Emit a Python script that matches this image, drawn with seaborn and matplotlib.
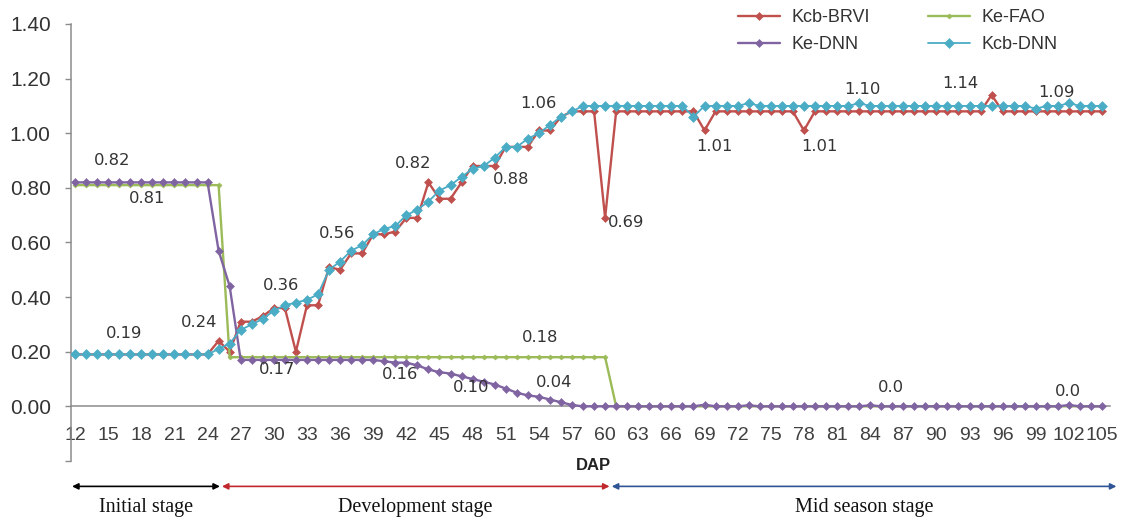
import matplotlib
matplotlib.use("Agg")
import matplotlib.pyplot as plt
from matplotlib import font_manager
import seaborn as sns

# Days after planting (daily observations) and the labelled x ticks
days = list(range(12, 106))
xtick_days = list(range(12, 106, 3))

# Basal crop coefficient from the BRVI model
kcb_brvi = [
    0.19, 0.19, 0.19, 0.19, 0.19, 0.19, 0.19, 0.19, 0.19, 0.19, 0.19, 0.19, 0.19,  # 12-24
    0.24, 0.20, 0.31, 0.31, 0.33, 0.36, 0.36, 0.20, 0.37, 0.37,                    # 25-34
    0.51, 0.50, 0.56, 0.56, 0.63, 0.63, 0.64, 0.69, 0.69, 0.82,                    # 35-44
    0.76, 0.76, 0.82, 0.88, 0.88, 0.88, 0.95, 0.95, 0.95, 1.01,                    # 45-54
    1.01, 1.06, 1.08, 1.08, 1.08, 0.69,                                            # 55-60
    1.08, 1.08, 1.08, 1.08, 1.08, 1.08, 1.08, 1.08, 1.01,                          # 61-69
    1.08, 1.08, 1.08, 1.08, 1.08, 1.08, 1.08, 1.08, 1.01,                          # 70-78
    1.08, 1.08, 1.08, 1.08, 1.08, 1.08, 1.08, 1.08,                                # 79-86
    1.08, 1.08, 1.08, 1.08, 1.08, 1.08, 1.08, 1.08, 1.14,                          # 87-95
    1.08, 1.08, 1.08, 1.08, 1.08, 1.08, 1.08, 1.08, 1.08, 1.08,                    # 96-105
]

# Evaporation coefficient following FAO-56
ke_fao = [
    0.81, 0.81, 0.81, 0.81, 0.81, 0.81, 0.81, 0.81, 0.81, 0.81, 0.81, 0.81, 0.81, 0.81,  # 12-25
    0.18, 0.18, 0.18, 0.18, 0.18, 0.18, 0.18, 0.18, 0.18, 0.18,                          # 26-35
    0.18, 0.18, 0.18, 0.18, 0.18, 0.18, 0.18, 0.18, 0.18, 0.18,                          # 36-45
    0.18, 0.18, 0.18, 0.18, 0.18, 0.18, 0.18, 0.18, 0.18, 0.18,                          # 46-55
    0.18, 0.18, 0.18, 0.18, 0.18,                                                        # 56-60
    0.0, 0.0, 0.0, 0.0, 0.0, 0.0, 0.0, 0.0, 0.0, 0.0, 0.0, 0.0, 0.0, 0.0, 0.0,           # 61-75
    0.0, 0.0, 0.0, 0.0, 0.0, 0.0, 0.0, 0.0, 0.0, 0.0, 0.0, 0.0, 0.0, 0.0, 0.0,           # 76-90
    0.0, 0.0, 0.0, 0.0, 0.0, 0.0, 0.0, 0.0, 0.0, 0.0, 0.0, 0.0, 0.0, 0.0, 0.0,           # 91-105
]

# Evaporation coefficient estimated by the DNN
ke_dnn = [
    0.82, 0.82, 0.82, 0.82, 0.82, 0.82, 0.82, 0.82, 0.82, 0.82, 0.82, 0.82, 0.82,  # 12-24
    0.57, 0.44,                                                                    # 25-26
    0.17, 0.17, 0.17, 0.17, 0.17, 0.17, 0.17, 0.17, 0.17, 0.17, 0.17, 0.17, 0.17,  # 27-39
    0.165, 0.16, 0.16, 0.15, 0.135, 0.125, 0.12, 0.11, 0.10,                       # 40-48
    0.09, 0.08, 0.065, 0.05, 0.04, 0.035, 0.025, 0.015, 0.005,                     # 49-57
    0.0, 0.0, 0.0, 0.0, 0.0, 0.0, 0.0, 0.0, 0.0, 0.0, 0.0, 0.006,                  # 58-69
    0.0, 0.0, 0.0, 0.004, 0.0, 0.0, 0.0, 0.0, 0.0, 0.0, 0.0, 0.0,                  # 70-81
    0.0, 0.0, 0.004, 0.0, 0.0, 0.0, 0.0, 0.0, 0.0, 0.0, 0.0, 0.0,                  # 82-93
    0.0, 0.0, 0.0, 0.0, 0.0, 0.0, 0.0, 0.0, 0.005, 0.0, 0.0, 0.0,                  # 94-105
]

# Basal crop coefficient estimated by the DNN
kcb_dnn = [
    0.19, 0.19, 0.19, 0.19, 0.19, 0.19, 0.19, 0.19, 0.19, 0.19, 0.19, 0.19, 0.19,  # 12-24
    0.21, 0.23, 0.28, 0.30, 0.32, 0.35, 0.37, 0.38, 0.39, 0.41,                    # 25-34
    0.50, 0.53, 0.57, 0.59, 0.63, 0.65, 0.66, 0.70, 0.72, 0.75,                    # 35-44
    0.79, 0.81, 0.84, 0.87, 0.88, 0.91, 0.95, 0.95, 0.98, 1.00,                    # 45-54
    1.03, 1.06, 1.08,                                                              # 55-57
    1.10, 1.10, 1.10, 1.10, 1.10, 1.10, 1.10, 1.10, 1.10, 1.10,                    # 58-67
    1.06, 1.10, 1.10, 1.10, 1.10, 1.11,                                            # 68-73
    1.10, 1.10, 1.10, 1.10, 1.10, 1.10, 1.10, 1.10, 1.10, 1.11,                    # 74-83
    1.10, 1.10, 1.10, 1.10, 1.10, 1.10, 1.10, 1.10, 1.10, 1.10,                    # 84-93
    1.10, 1.10, 1.10, 1.10, 1.10, 1.09, 1.10, 1.10, 1.11, 1.10, 1.10, 1.10,        # 94-105
]

series_names = ["Kcb-BRVI", "Ke-FAO", "Ke-DNN", "Kcb-DNN"]
series_values = [kcb_brvi, ke_fao, ke_dnn, kcb_dnn]
series_colors = ["#C0504D", "#9BBB59", "#8064A2", "#4BACC6"]

# Value call-outs written next to the curves: (text, day, height)
value_labels = [
    ("0.82", 15.4, 0.90), ("0.81", 18.5, 0.76), ("0.19", 16.4, 0.265),
    ("0.24", 23.25, 0.307), ("0.17", 30.25, 0.136), ("0.36", 30.7, 0.443),
    ("0.56", 35.7, 0.634), ("0.82", 42.6, 0.89), ("0.16", 41.4, 0.117),
    ("0.10", 47.9, 0.068), ("0.04", 55.35, 0.089), ("0.18", 54.1, 0.252),
    ("0.88", 51.5, 0.829), ("1.06", 54.0, 1.11), ("0.69", 61.9, 0.673),
    ("1.01", 69.9, 0.951), ("1.01", 79.4, 0.951), ("1.10", 83.3, 1.161),
    ("1.14", 92.2, 1.183), ("1.09", 100.9, 1.149), ("0.0", 85.9, 0.068),
    ("0.0", 101.9, 0.056),
]

# Growth stages along the DAP axis: (name, start day, end day, colour)
stages = [
    ("Initial stage", 11.73, 25.12, "#000000"),
    ("Development stage", 25.3, 60.4, "#C0282D"),
    ("Mid season stage", 60.6, 106.3, "#2F5597"),
]

sns.set_style("white")
installed = {f.name for f in font_manager.fontManager.ttflist}
narrow = "Liberation Sans Narrow" if "Liberation Sans Narrow" in installed else "Liberation Sans"
plt.rcParams["font.family"] = ["Liberation Sans", "DejaVu Sans"]

fig = plt.figure(figsize=(11.21, 5.21), dpi=100)
ax = fig.add_axes([0.0629, 0.1152, 0.9271, 0.8388])

styles = {
    "Kcb-BRVI": dict(markersize=4.5, linewidth=1.7, zorder=3.0),
    "Ke-FAO": dict(markersize=2.6, linewidth=1.7, zorder=3.1),
    "Ke-DNN": dict(markersize=3.6, linewidth=1.7, zorder=3.2),
    "Kcb-DNN": dict(markersize=4.8, linewidth=1.3, zorder=3.3),
}
for name, vals, col in zip(series_names, series_values, series_colors):
    sns.lineplot(x=days, y=vals, ax=ax, color=col, marker="D",
                 markeredgecolor=col, markeredgewidth=0.4, label=name,
                 **styles[name])

ax.set_xlim(11.59, 105.7)
ax.set_ylim(-0.2, 1.4)

# Axes frame: y axis on the left, x axis drawn through zero
for side in ("top", "right"):
    ax.spines[side].set_visible(False)
ax.spines["left"].set_color("#8C8C8C")
ax.spines["left"].set_linewidth(1.1)
ax.spines["bottom"].set_position(("data", 0))
ax.spines["bottom"].set_color("#8C8C8C")
ax.spines["bottom"].set_linewidth(1.1)

yticks = [-0.2, 0.0, 0.2, 0.4, 0.6, 0.8, 1.0, 1.2, 1.4]
ax.set_yticks(yticks)
ax.set_yticklabels([""] + [f"{t:.2f}" for t in yticks[1:]])
ax.tick_params(axis="y", left=True, direction="out", length=4.3, width=1,
               color="#8C8C8C", pad=10, labelsize=15, labelcolor="#333333")

ax.set_xticks(xtick_days)
ax.set_xticklabels([str(d) for d in xtick_days], fontfamily=narrow,
                   fontsize=14, color="#404040")
ax.tick_params(axis="x", bottom=False, length=0, pad=15)
ax.set_xlabel("")
ax.set_ylabel("")

for text, d, v in value_labels:
    ax.text(d, v, text, ha="center", va="center", fontsize=11.8,
            family="DejaVu Sans", color="#333333", zorder=5)

ax.text(58.97, -0.216, "DAP", ha="center", va="center", fontsize=12,
        fontweight="bold", family=narrow, color="#222222")

for name, x0, x1, col in stages:
    ax.annotate("", xy=(x1, -0.293), xytext=(x0, -0.293),
                arrowprops=dict(arrowstyle="<|-|>", color=col, lw=1.2,
                                mutation_scale=9, shrinkA=0, shrinkB=0),
                annotation_clip=False)
    ax.text((x0 + x1) / 2, -0.37, name, ha="center", va="center",
            fontsize=14.5, family="Liberation Serif", color="#111111")

handles, labels = ax.get_legend_handles_labels()
lookup = dict(zip(labels, handles))
order = ["Kcb-BRVI", "Ke-DNN", "Ke-FAO", "Kcb-DNN"]
ax.legend([lookup[k] for k in order], order, ncol=2, frameon=False,
          loc="center", bbox_to_anchor=(0.801, 0.940),
          bbox_transform=fig.transFigure, fontsize=13, handlelength=2.3,
          handletextpad=0.66, columnspacing=3.2, labelspacing=0.55,
          borderpad=0, labelcolor="#333333")

fig.savefig("out.png", dpi=100)
